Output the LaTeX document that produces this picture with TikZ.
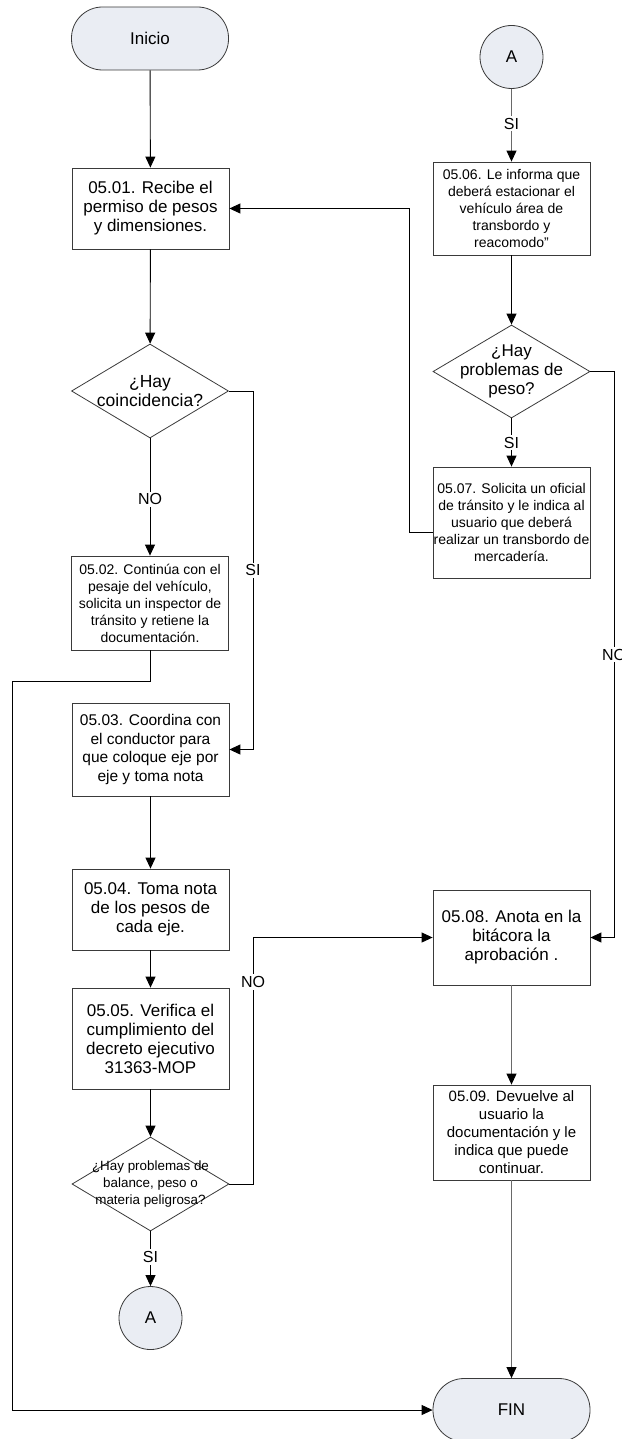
\documentclass[tikz,border=0pt]{standalone}
\usepackage{fontspec}
\setmainfont{Liberation Sans}
\usetikzlibrary{shapes.geometric,arrows.meta}
\definecolor{termfill}{RGB}{234,237,243}
\definecolor{edgegray}{RGB}{58,58,58}
\definecolor{flowgray}{RGB}{105,105,105}
\begin{document}
\begin{tikzpicture}[x=1pt,y=-1pt,
  base/.style={draw=edgegray,line width=0.8pt,inner sep=0pt,align=center},
  term/.style={base,fill=termfill,rounded corners=31pt,minimum width=157pt,minimum height=63pt,font=\fontsize{17}{19}\selectfont},
  conn/.style={base,fill=termfill,circle,minimum size=63pt,font=\fontsize{17}{19}\selectfont},
  bigbox/.style={base,fill=white,rectangle,minimum width=157pt,font=\fontsize{17}{19}\selectfont},
  midbox/.style={base,fill=white,rectangle,minimum width=157pt,font=\fontsize{15.5}{18.5}\selectfont},
  smallbox/.style={base,fill=white,rectangle,minimum width=157pt,font=\fontsize{14}{17}\selectfont},
  decision/.style={base,fill=white,diamond,minimum width=157pt,minimum height=94pt},
  dtext/.style={align=center,inner sep=0pt},
  flow/.style={line width=0.9pt,-{Triangle[length=11pt,width=10pt,color=black,fill=black]}},
  grayflow/.style={flow,draw=flowgray},
  tag/.style={fill=white,inner sep=2pt,font=\fontsize{16}{18}\selectfont}]

\useasboundingbox (0,0) rectangle (621,1439);

% left column
\node[term] (ini) at (150,38.5) {Inicio};
\node[bigbox,minimum height=81pt] (b01) at (150.5,208.5) {05.01. Recibe el\\permiso de pesos\\y dimensiones.};
\node[decision] (d1) at (150,391) {};
\node[dtext,font=\fontsize{17.5}{19}\selectfont] (t1) at (d1) {¿Hay\\coincidencia?};
\node[smallbox,minimum height=94pt] (b02) at (150,603) {05.02. Continúa con el\\pesaje del vehículo,\\solicita un inspector de\\tránsito y retiene la\\documentación.};
\node[midbox,minimum height=93pt] (b03) at (150.5,749.5) {05.03. Coordina con\\el conductor para\\que coloque eje por\\eje y toma nota};
\node[bigbox,minimum height=81pt] (b04) at (150.5,909.5) {05.04. Toma nota\\de los pesos de\\cada eje.};
\node[bigbox,minimum height=101pt] (b05) at (150.5,1038.5) {05.05. Verifica el\\cumplimiento del\\decreto ejecutivo\\31363-MOP};
\node[decision] (d3) at (150.5,1184) {};
\node[dtext,font=\fontsize{13.4}{16.7}\selectfont] (t3) at (d3) {¿Hay problemas de\\balance, peso o\\materia peligrosa?};
\node[conn] (a1) at (150.5,1318) {A};

% right column
\node[conn] (a2) at (511.5,57) {A};
\node[smallbox,minimum height=93pt] (b06) at (511.5,208.5) {05.06. Le informa que\\deberá estacionar el\\vehículo área de\\transbordo y\\reacomodo”};
\node[decision,minimum height=93pt] (d2) at (511.5,371.5) {};
\node[dtext,font=\fontsize{17}{19}\selectfont] (t2) at (d2) {¿Hay\\problemas de\\peso?};
\node[smallbox,minimum height=111pt] (b07) at (511.5,522.5) {05.07. Solicita un oficial\\de tránsito y le indica al\\usuario que deberá\\realizar un transbordo de\\mercadería.};
\node[bigbox,minimum height=95pt] (b08) at (511.5,937.5) {05.08. Anota en la\\bitácora la\\aprobación .};
\node[midbox,font=\fontsize{15}{18}\selectfont,minimum height=95pt] (b09) at (511.5,1132.5) {05.09. Devuelve al\\usuario la\\documentación y le\\indica que puede\\continuar.};
\node[term] (fin) at (511.5,1410) {FIN};

% bend points of the routed connectors
\coordinate (p1) at (253,391);
\coordinate (p2) at (253,749.5);
\coordinate (p3) at (150,681);
\coordinate (p4) at (12,681);
\coordinate (p5) at (12,1410);
\coordinate (p6) at (253,1184);
\coordinate (p7) at (253,937.5);
\coordinate (p8) at (614,371.5);
\coordinate (p9) at (614,937.5);
\coordinate (p10) at (409,532);
\coordinate (p11) at (409,208.5);

% connectors
\draw[flow] (ini) -- (b01);
\draw[flow] (b01) -- (d1);
\draw[flow] (d1) -- node[tag,pos=0.52] (lno1) {NO} (b02);
\draw[flow] (d1.east) -- (p1) -- node[tag,pos=0.50] (lsi1) {SI} (p2) -- (b03.east);
\draw[flow] (b02.south) -- (p3) -- (p4) -- (p5) -- (fin.west);
\draw[flow] (b03) -- (b04);
\draw[flow] (b04) -- (b05);
\draw[flow] (b05) -- (d3);
\draw[flow] (d3) -- node[tag,pos=0.47] (lsi2) {SI} (a1);
\draw[flow] (d3.east) -- (p6) -- node[tag,pos=0.82] (lno2) {NO} (p7) -- (b08.west);

\draw[grayflow] (a2) -- node[tag,pos=0.48] (lsi3) {SI} (b06);
\draw[flow] (b06) -- (d2);
\draw[flow] (d2) -- node[tag,pos=0.5] (lsi4) {SI} (b07);
\draw[flow] (d2.east) -- (p8) -- node[tag,pos=0.5] (lno3) {NO} (p9) -- (b08.east);
\draw[flow] ([yshift=-9.5pt]b07.west) -- (p10) -- (p11) -- (b01.east);
\draw[grayflow] (b08) -- (b09);
\draw[grayflow] (b09) -- (fin);
\end{tikzpicture}
\end{document}
